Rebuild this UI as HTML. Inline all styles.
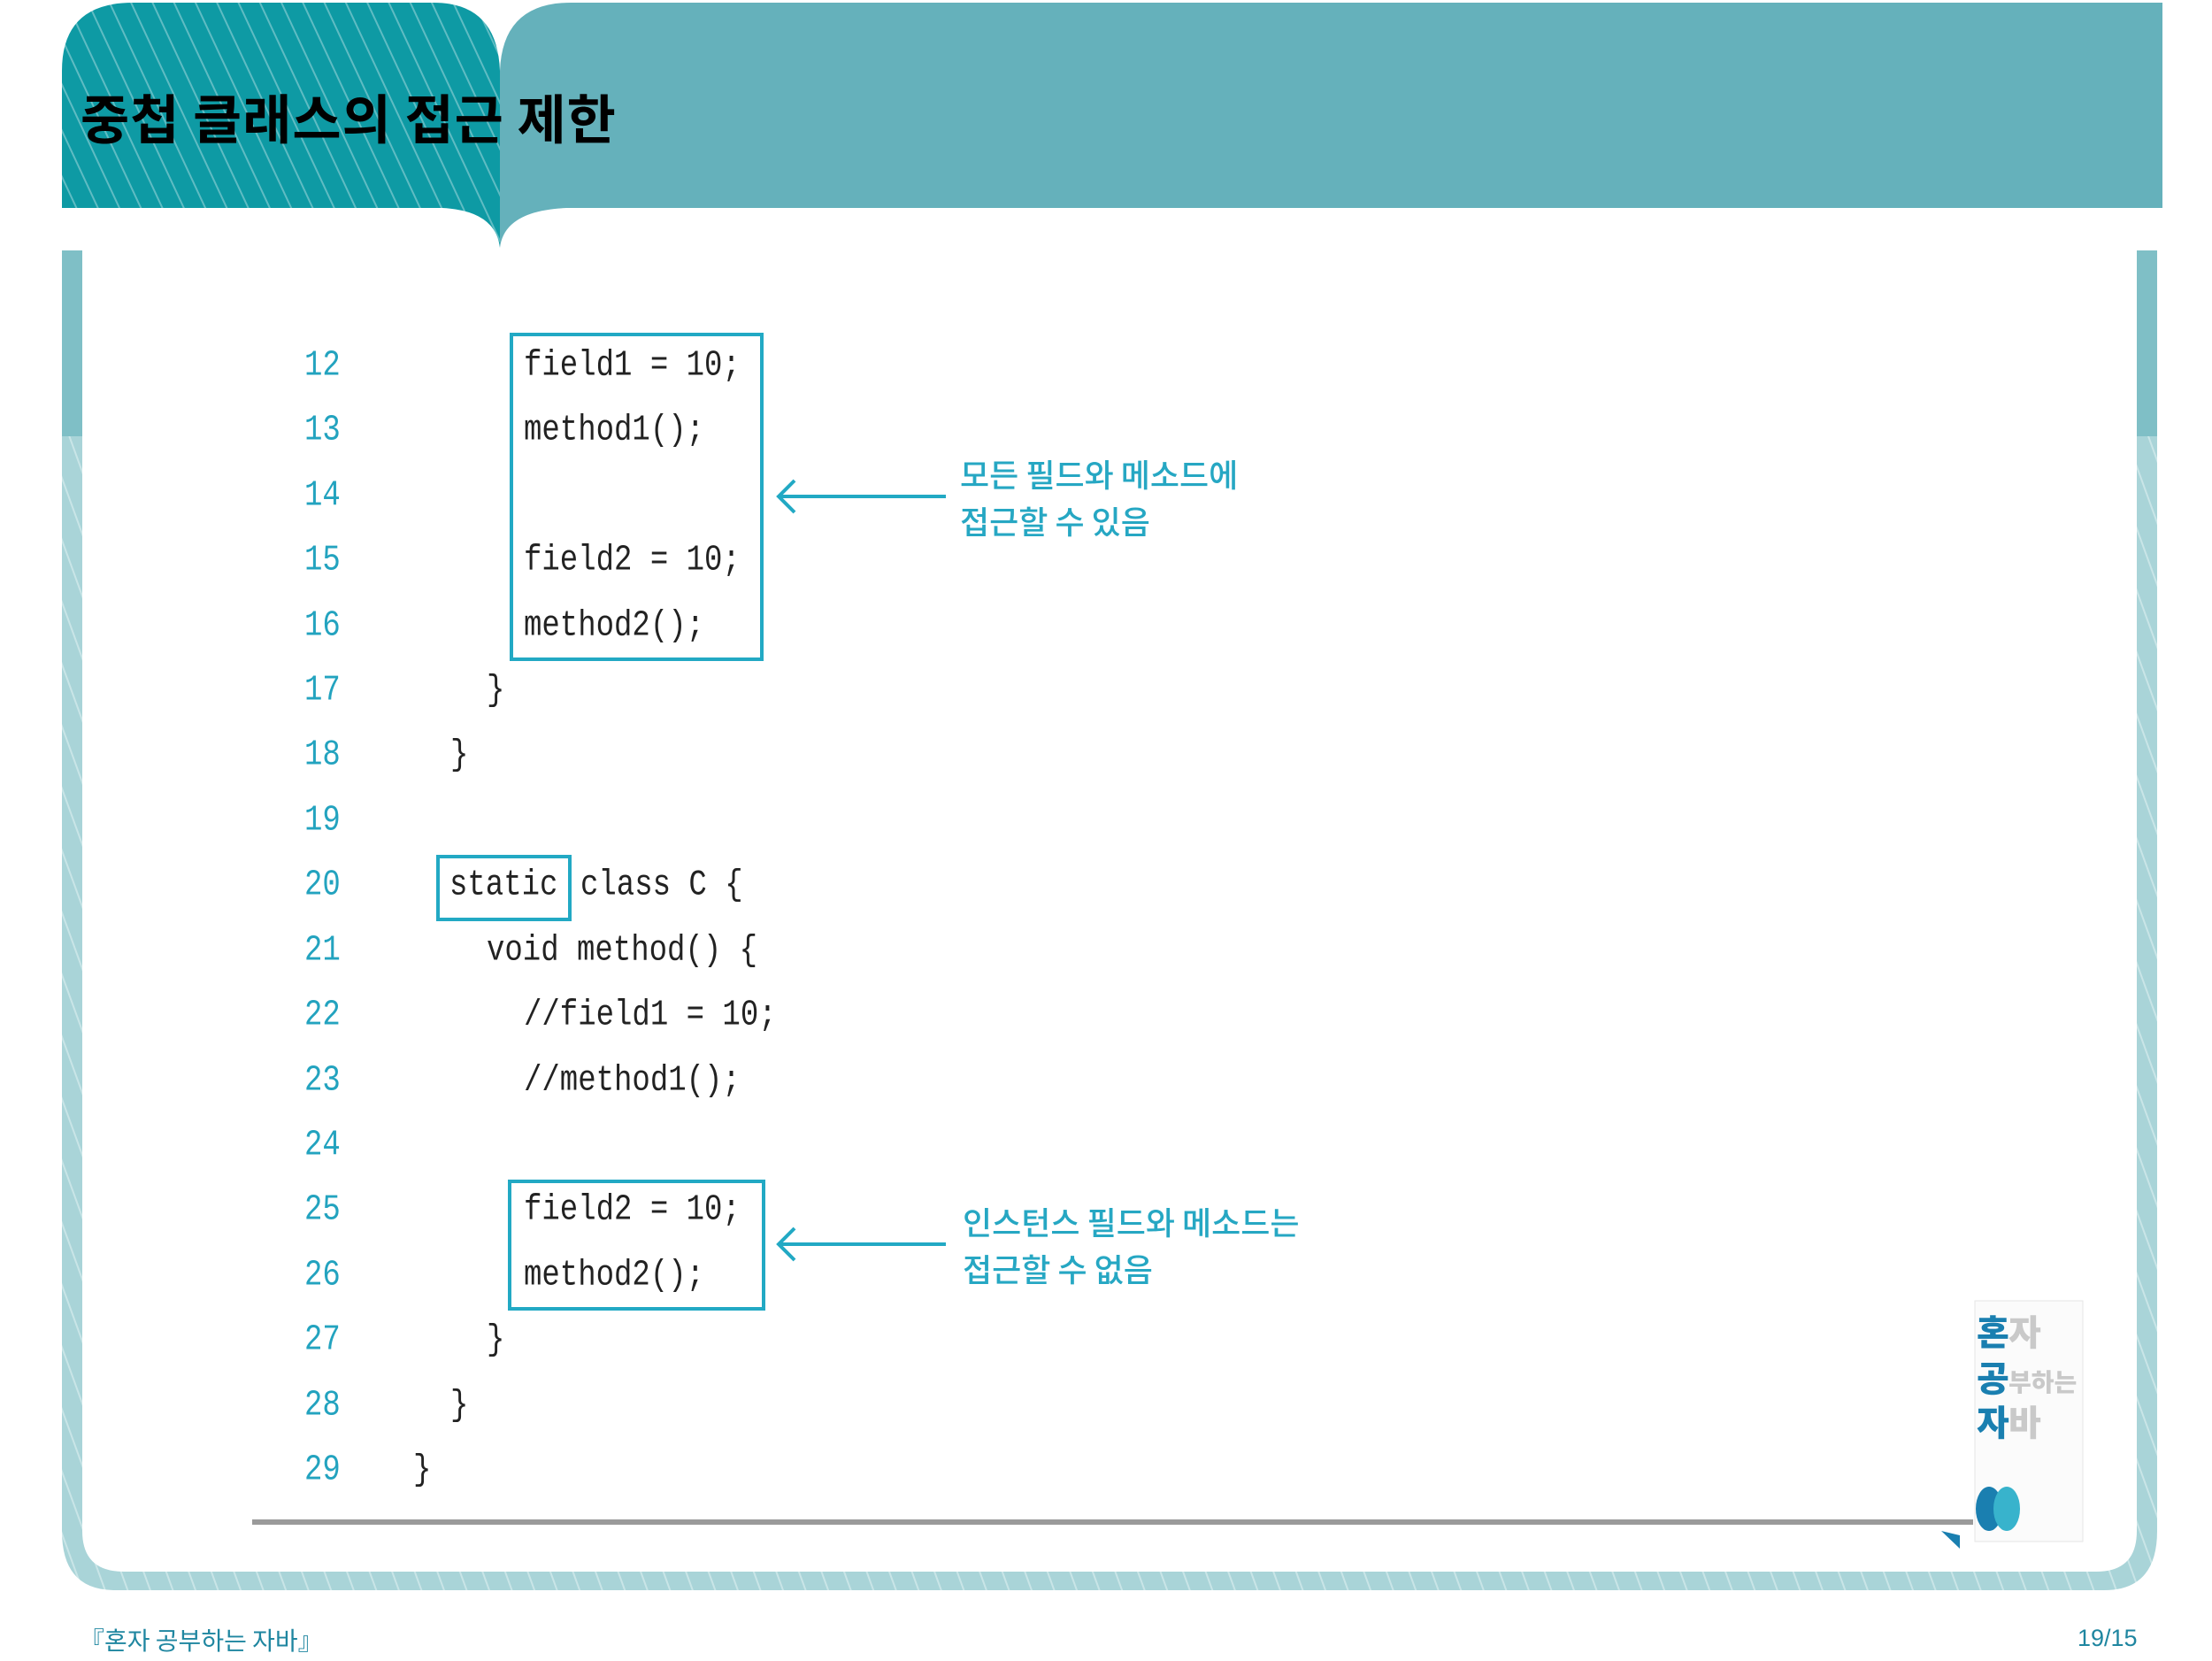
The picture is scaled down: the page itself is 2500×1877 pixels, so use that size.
<!DOCTYPE html>
<html><head><meta charset="utf-8"><style>
body{margin:0;width:2500px;height:1877px;background:#fff;position:relative;overflow:hidden;font-family:"Liberation Sans","Noto Sans CJK KR",sans-serif}
.t{position:absolute;white-space:pre;line-height:50px;height:50px}
.ln{color:#23a3bf;font-family:"Liberation Mono",monospace;font-size:34px;left:344px;transform:scaleY(1.2);transform-origin:left center}
.c{color:#222;font-family:"Liberation Mono",monospace;font-size:34px;transform:scaleY(1.2);transform-origin:left center}
.k{color:#26a7c3;font-family:"Noto Sans CJK KR",sans-serif;font-size:36px;line-height:50px;font-weight:500}
.box{position:absolute;border:4px solid #22a9c4;box-sizing:border-box}
</style></head><body>
<svg width="2500" height="1877" style="position:absolute;left:0;top:0">
<defs>
<pattern id="st" width="22" height="22" patternUnits="userSpaceOnUse" patternTransform="rotate(-25)">
<rect width="22" height="22" fill="#0e9aa4"/><rect width="2" height="22" fill="#5fbcc3"/></pattern>
<pattern id="st2" width="24" height="24" patternUnits="userSpaceOnUse" patternTransform="rotate(-20)">
<rect width="24" height="24" fill="#a9d4d8"/><rect width="2" height="24" fill="#c9e5e7"/></pattern>
</defs>
<path d="M70,283 H2438 V1730 Q2438,1797 2378,1797 H130 Q70,1797 70,1730 Z" fill="url(#st2)"/>
<rect x="70" y="283" width="2368" height="210" fill="#7fbfc6"/>
<path d="M93,283 H2415 V1730 Q2415,1776 2369,1776 H140 Q93,1776 93,1730 Z" fill="#fff"/>
<path d="M565,280 V80 Q568,3 645,3 H2444 V235 H640 Q570,238 565,280 Z" fill="#65b1bb"/>
<path d="M70,235 V80 Q70,3 150,3 H490 Q562,3 565,80 V280 Q560,238 500,235 Z" fill="url(#st)"/>
<line x1="285" y1="1720" x2="2230" y2="1720" stroke="#9a9a9a" stroke-width="6"/>
<g stroke="#22a9c4" stroke-width="4" fill="none">
<line x1="1069" y1="561" x2="880" y2="561"/><path d="M898,543 L880,561 L898,579"/>
<line x1="1069" y1="1406" x2="880" y2="1406"/><path d="M898,1388 L880,1406 L898,1424"/>
</g>
<rect x="2232" y="1470" width="122" height="272" fill="#fbfbfb" stroke="#e6e6e6"/>
<text x="2234" y="1520" font-family="Noto Sans CJK KR" font-weight="900" font-size="40" fill="#1a7fb0">혼</text>
<text x="2270" y="1520" font-family="Noto Sans CJK KR" font-weight="900" font-size="40" fill="#c9c9c9">자</text>
<text x="2234" y="1572" font-family="Noto Sans CJK KR" font-weight="900" font-size="40" fill="#1a7fb0">공</text>
<text x="2270" y="1572" font-family="Noto Sans CJK KR" font-weight="900" font-size="28" fill="#c9c9c9">부하는</text>
<text x="2234" y="1622" font-family="Noto Sans CJK KR" font-weight="900" font-size="40" fill="#1a7fb0">자</text>
<text x="2270" y="1622" font-family="Noto Sans CJK KR" font-weight="900" font-size="40" fill="#c9c9c9">바</text>
<ellipse cx="2248" cy="1705" rx="15" ry="25" fill="#1a7fb0"/><ellipse cx="2268" cy="1705" rx="15" ry="25" fill="#38b3cc"/>
<path d="M2194,1730 L2215,1750 L2215,1735 Z" fill="#1a7fb0"/>
</svg>
<div class="t" style="left:91px;top:97px;height:70px;line-height:70px;font-size:60px;font-weight:bold;color:#000;font-family:'Noto Sans CJK KR',sans-serif;letter-spacing:1px">중첩 클래스의 접근 제한</div>

<div class="t ln" style="top:389px">12</div>
<div class="t ln" style="top:462px">13</div>
<div class="t ln" style="top:536px">14</div>
<div class="t ln" style="top:609px">15</div>
<div class="t ln" style="top:683px">16</div>
<div class="t ln" style="top:756px">17</div>
<div class="t ln" style="top:829px">18</div>
<div class="t ln" style="top:903px">19</div>
<div class="t ln" style="top:976px">20</div>
<div class="t ln" style="top:1050px">21</div>
<div class="t ln" style="top:1123px">22</div>
<div class="t ln" style="top:1197px">23</div>
<div class="t ln" style="top:1270px">24</div>
<div class="t ln" style="top:1343px">25</div>
<div class="t ln" style="top:1417px">26</div>
<div class="t ln" style="top:1490px">27</div>
<div class="t ln" style="top:1564px">28</div>
<div class="t ln" style="top:1637px">29</div>

<div class="t c" style="left:592px;top:389px">field1 = 10;</div>
<div class="t c" style="left:592px;top:462px">method1();</div>
<div class="t c" style="left:592px;top:609px">field2 = 10;</div>
<div class="t c" style="left:592px;top:683px">method2();</div>
<div class="t c" style="left:550px;top:756px">}</div>
<div class="t c" style="left:509px;top:829px">}</div>
<div class="t c" style="left:508px;top:976px">static</div>
<div class="t c" style="left:656px;top:976px">class C {</div>
<div class="t c" style="left:550px;top:1050px">void method() {</div>
<div class="t c" style="left:592px;top:1123px">//field1 = 10;</div>
<div class="t c" style="left:592px;top:1197px">//method1();</div>
<div class="t c" style="left:592px;top:1343px">field2 = 10;</div>
<div class="t c" style="left:592px;top:1417px">method2();</div>
<div class="t c" style="left:550px;top:1490px">}</div>
<div class="t c" style="left:509px;top:1564px">}</div>
<div class="t c" style="left:467px;top:1637px">}</div>

<div class="box" style="left:576px;top:376px;width:287px;height:371px"></div>
<div class="box" style="left:493px;top:966px;width:153px;height:75px"></div>
<div class="box" style="left:574px;top:1333px;width:291px;height:148px"></div>

<div class="t k" style="left:1085px;top:510px">모든 필드와 메소드에</div>
<div class="t k" style="left:1085px;top:563px">접근할 수 있음</div>
<div class="t k" style="left:1088px;top:1355px">인스턴스 필드와 메소드는</div>
<div class="t k" style="left:1088px;top:1408px">접근할 수 없음</div>

<div class="t" style="left:90px;top:1834px;height:38px;line-height:38px;font-size:28px;color:#1f86a0;font-family:'Noto Sans CJK KR',sans-serif">『혼자 공부하는 자바』</div>
<div class="t" style="left:2348px;top:1832px;height:38px;line-height:38px;font-size:27px;color:#1f86a0">19/15</div>
</body></html>
